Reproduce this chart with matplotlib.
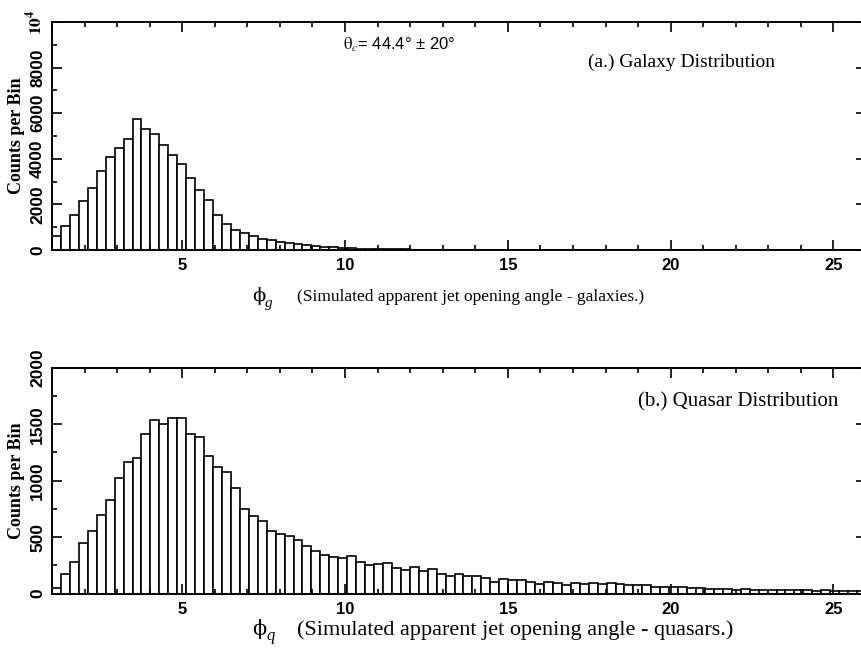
import numpy as np
import matplotlib
matplotlib.use("Agg")
import matplotlib.pyplot as plt
from matplotlib.ticker import MultipleLocator, FuncFormatter

plt.rcParams["mathtext.fontset"] = "stix"

# histogram: 91 bins from 1 to 26 (degrees)
bin_lo, bin_hi, n_bins = 1.0, 26.0, 91

galaxy_counts = [
    610, 1060, 1540, 2130, 2730, 3450, 4060, 4490, 4860, 5760,
    5300, 5070, 4610, 4150, 3780, 3160, 2650, 2210, 1550, 1120,
    860, 730, 610, 500, 420, 360, 320, 260, 210, 170,
    140, 120, 100, 80, 65, 55, 45, 35, 28, 22,
    17, 13, 10, 8, 6, 5, 4, 3, 2, 2,
    1, 1,
] + [0] * 39

quasar_counts = [
    45, 177, 281, 449, 558, 694, 824, 1019, 1161, 1203,
    1412, 1534, 1501, 1557, 1551, 1412, 1389, 1220, 1117, 1075,
    937, 751, 689, 638, 550, 527, 508, 476, 420, 378,
    340, 319, 316, 328, 275, 251, 260, 269, 228, 204,
    233, 195, 213, 177, 157, 171, 151, 154, 139, 104,
    127, 118, 121, 104, 83, 100, 92, 77, 92, 85,
    95, 85, 90, 80, 75, 72, 72, 60, 55, 55,
    62, 50, 50, 42, 40, 38, 35, 40, 33, 30,
    32, 30, 28, 30, 27, 25, 28, 24, 22, 25,
    20,
]

x_major = [5, 10, 15, 20, 25]
galaxy_yticks = [0, 2000, 4000, 6000, 8000, 10000]
quasar_yticks = [0, 500, 1000, 1500, 2000]

W, H = 861, 648


def fx(px):
    return px / W


def fy(py):
    return 1 - py / H


def draw_panel(ax, counts, ymax, yticks, yminor, fmt):
    edges = np.linspace(bin_lo, bin_hi, n_bins + 1)
    ax.bar(edges[:-1], counts, width=np.diff(edges), align="edge",
           facecolor="white", edgecolor="black", linewidth=1.2)
    ax.set_xlim(bin_lo, bin_hi)
    ax.set_ylim(0, ymax)
    ax.set_xticks(x_major)
    ax.xaxis.set_minor_locator(MultipleLocator(1))
    ax.set_yticks(yticks)
    ax.yaxis.set_minor_locator(MultipleLocator(yminor))
    ax.yaxis.set_major_formatter(FuncFormatter(fmt))
    ax.tick_params(which="both", direction="in", top=True, right=True, width=1.2)
    ax.tick_params(which="major", length=7)
    ax.tick_params(which="minor", length=3.5)
    ax.tick_params(axis="x", pad=6)
    ax.tick_params(axis="y", pad=5)
    for lab in ax.get_xticklabels():
        lab.set_fontfamily("Liberation Sans")
        lab.set_fontweight("bold")
        lab.set_fontsize(12)
    for lab in ax.get_yticklabels():
        lab.set_fontfamily("Liberation Sans")
        lab.set_fontweight("bold")
        lab.set_fontsize(12.5)
        lab.set_rotation(90)
        lab.set_va("center")
    for sp in ax.spines.values():
        sp.set_linewidth(1.4)
    ax.set_ylabel("Counts per Bin", fontfamily="Liberation Serif",
                  fontweight="bold", fontsize=13)
    ax.yaxis.set_label_coords(-0.033, 0.5)


def galaxy_fmt(v, pos):
    if v == 10000:
        return r"$\mathbf{10^4}$"
    return f"{int(v)}"


def quasar_fmt(v, pos):
    return f"{int(v)}"


fig = plt.figure(figsize=(W / 100, H / 100), dpi=100)

ax1 = fig.add_axes([fx(52), fy(250), fx(866 - 52), (250 - 22) / H])
draw_panel(ax1, galaxy_counts, 10000, galaxy_yticks, 1000, galaxy_fmt)

ax2 = fig.add_axes([fx(52), fy(593.5), fx(866 - 52), (593.5 - 367.7) / H])
draw_panel(ax2, quasar_counts, 2000, quasar_yticks, 250, quasar_fmt)

serif = "Liberation Serif"
fig.text(fx(343), fy(45), r"$\mathrm{\theta}_c$= 44.4° ± 20°", fontfamily="Liberation Sans",
         fontsize=12, va="center", ha="left")
fig.text(fx(588), fy(62), "(a.) Galaxy Distribution", fontfamily=serif,
         fontsize=14, va="center", ha="left")
fig.text(fx(638), fy(402), "(b.) Quasar Distribution", fontfamily=serif,
         fontsize=15, va="center", ha="left")

# x-axis captions: upright phi with italic subscript
fig.text(fx(252), fy(296), "ϕ", fontfamily="DejaVu Serif", fontsize=14,
         va="center", ha="left")
fig.text(fx(265), fy(303), "g", fontfamily=serif, fontstyle="italic", fontsize=11,
         va="center", ha="left")
fig.text(fx(297), fy(297), "(Simulated apparent jet opening angle - galaxies.)",
         fontfamily=serif, fontsize=12.5, va="center", ha="left")
fig.text(fx(252), fy(629), "ϕ", fontfamily="DejaVu Serif", fontsize=15,
         va="center", ha="left")
fig.text(fx(266), fy(636), "q", fontfamily=serif, fontstyle="italic", fontsize=12,
         va="center", ha="left")
fig.text(fx(297), fy(630), "(Simulated apparent jet opening angle - quasars.)",
         fontfamily=serif, fontsize=16, va="center", ha="left")

fig.savefig("out.png", dpi=100)
